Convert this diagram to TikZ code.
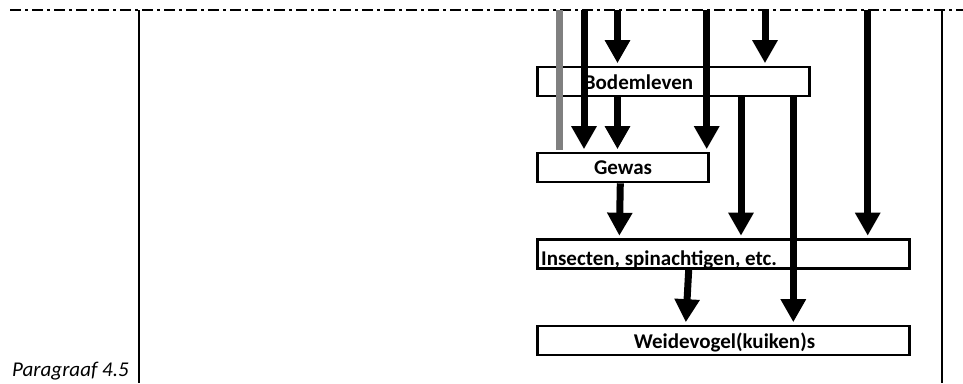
\documentclass[tikz,border=0pt]{standalone}
\usepackage{fontspec}
\setmainfont{Carlito}
\usetikzlibrary{arrows.meta}
\begin{document}
\begin{tikzpicture}[x=1pt,y=-1pt,
  box/.style={draw=black,line width=2.6pt,fill=white,minimum height=29pt,inner sep=0pt},
  boxtext/.style={inner sep=0pt,font=\fontsize{21}{25}\selectfont\bfseries},
  arr/.style={line width=7pt,-{Triangle[width=24pt,length=23pt]},shorten >=2.5pt},
  grayline/.style={line width=7pt,draw={rgb,255:red,128;green,128;blue,128}},
  frame/.style={line width=2pt},
  topline/.style={line width=2.8pt,dash pattern=on 11pt off 4pt on 3pt off 4pt}]
\useasboundingbox (0,0) rectangle (963,383);
% frame
\draw[topline] (10,10) -- (963,10);
\coordinate (fl) at (138.5,10);
\coordinate (fr) at (941.5,10);
\draw[frame] (fl) -- (138.5,383);
\draw[frame] (fr) -- (941.5,383);
\node[inner sep=0pt,anchor=base east,font=\fontsize{21}{25}\selectfont\itshape] (par) at (129,376) {Paragraaf 4.5};
% boxes
\node[box,minimum width=272pt] (bodem) at (673.5,81.5) {};
\node[box,minimum width=171pt] (gewas) at (623,167.5) {};
\node[box,minimum width=372pt] (insect) at (723.5,254) {};
\node[box,minimum width=372pt] (weide) at (723.5,340.5) {};
\node[boxtext,anchor=base] (bodemT) at (638.5,89.3) {Bodemleven};
\node[boxtext,anchor=base] (gewasT) at (623,174.3) {Gewas};
\node[boxtext,anchor=base west] (insectT) at (541,265) {Insecten, spinachtigen, etc.};
\node[boxtext,anchor=base] (weideT) at (724.5,348.3) {Weidevogel(kuiken)s};
% top coordinates
\coordinate (tG) at (559.3,10);
\coordinate (tA) at (584,10);
\coordinate (tB) at (617.5,10);
\coordinate (tD) at (706.7,10);
\coordinate (tE) at (765,10);
\coordinate (tF) at (867.7,10);
\coordinate (xG) at (741,0);
\coordinate (xH) at (793.3,0);
\coordinate (xI1) at (620.3,0);
\coordinate (xI2) at (619.3,0);
\coordinate (xJ1) at (688.7,0);
\coordinate (xJ2) at (685.7,0);
% connectors
\draw[grayline] (tG) -- (559.3,150);
\draw[arr] (tA) -- (tA |- gewas.north);
\draw[arr] (tB) -- (tB |- bodem.north);
\draw[arr] (tD) -- (tD |- gewas.north);
\draw[arr] (tE) -- (tE |- bodem.north);
\draw[arr] (tF) -- (tF |- insect.north);
\draw[arr] (tB |- bodem.south) -- (tB |- gewas.north);
\draw[arr] (xG |- bodem.south) -- (xG |- insect.north);
\draw[arr] (xH |- bodem.south) -- (xH |- weide.north);
\draw[arr] (xI1 |- gewas.south) -- (xI2 |- insect.north);
\draw[arr] (xJ1 |- insect.south) -- (xJ2 |- weide.north);
\end{tikzpicture}
\end{document}
